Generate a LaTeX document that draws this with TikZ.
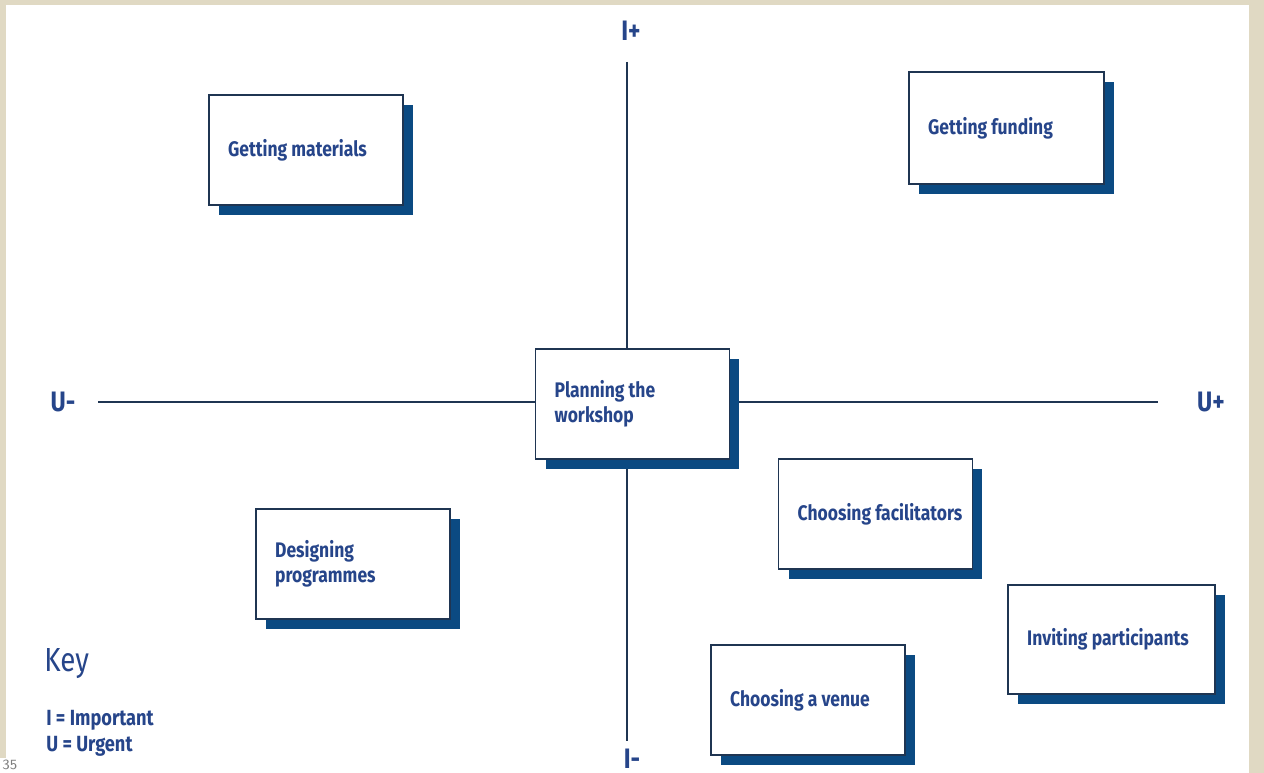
\documentclass[tikz,border=0pt]{standalone}
\usepackage{fontspec}
\usepackage{xcolor}
\usetikzlibrary{shadows}
\newfontfamily\handfont[FakeStretch=0.83]{Fira Sans}
\definecolor{pagebeige}{HTML}{E0D9C3}
\definecolor{inkblue}{HTML}{26458A}
\definecolor{axisblue}{HTML}{1F3552}
\definecolor{shadowblue}{HTML}{0B4A82}
\tikzset{
  card/.style={draw=axisblue, line width=0.8pt, fill=white,
    minimum width=3.88cm, minimum height=2.2cm, inner sep=0pt,
    drop shadow={fill=shadowblue, opacity=1, shadow xshift=0.2cm, shadow yshift=-0.2cm}},
  cardtext/.style={anchor=west, xshift=0.39cm, inner sep=0pt, align=left, text=inkblue,
    font=\handfont\bfseries\fontsize{12}{14.5}\selectfont},
  axislabel/.style={text=inkblue, font=\handfont\bfseries\fontsize{16}{18}\selectfont, inner sep=0pt},
  keytext/.style={text=inkblue, anchor=west, inner sep=0pt, align=left}
}
\begin{document}
\begin{tikzpicture}[x=0.02cm, y=-0.02cm]
    \useasboundingbox (0,0) rectangle (1264,773);
    \clip (0,0) rectangle (1264,773);
    % Page frame
    \fill[pagebeige] (0,0) rectangle (1264,773);
    \fill[white] (6,5) rectangle (1249,773);
    \fill[white] (0,758) rectangle (6,773);
    % Axis ends
    \coordinate (itop) at (627,62);
    \coordinate (ibot) at (627,741);
    \coordinate (uleft) at (98,402);
    \coordinate (uright) at (1158,402);
    \node[axislabel] (iplus) at (631,31) {I+};
    \node[axislabel] (uminus) at (63,402) {U-};
    \node[axislabel] (uplus) at (1211,402) {U+};
    \node[axislabel, anchor=south] (iminus) at (632,769) {I-};
    % Axes
    \draw[axisblue, line width=0.85pt] (itop) -- (ibot);
    \draw[axisblue, line width=0.85pt] (uleft) -- (uright);
    % Tasks
    \node[card, label={[cardtext]west:Getting materials}] (materials) at (306,150) {};
    \node[card, minimum width=3.9cm, minimum height=2.24cm,
      label={[cardtext]west:Getting funding}] (funding) at (1006.5,128) {};
    \node[card, label={[cardtext]west:Planning the\\workshop}] (planning) at (632.5,404) {};
    \node[card, label={[cardtext]west:Designing\\programmes}] (designing) at (353,564) {};
    \node[card, label={[cardtext]west:Choosing facilitators}] (facilitators) at (875.5,514) {};
    \node[card, minimum width=4.14cm, minimum height=2.18cm,
      label={[cardtext]west:Inviting participants}] (inviting) at (1111.5,639.5) {};
    \node[card, label={[cardtext]west:Choosing a venue}] (venue) at (808,700) {};
    % Key
    \node[keytext, font=\handfont\fontsize{19}{21}\selectfont] (key) at (44,664) {Key};
    \node[keytext, font=\handfont\bfseries\fontsize{12.5}{15}\selectfont] (keyitems) at (46,733)
      {I = Important\\U = Urgent};
    % Page number
    \node[anchor=west, inner sep=0pt, text=gray, font=\sffamily\fontsize{8}{8}\selectfont] (pageno) at (2,765) {35};
\end{tikzpicture}
\end{document}
